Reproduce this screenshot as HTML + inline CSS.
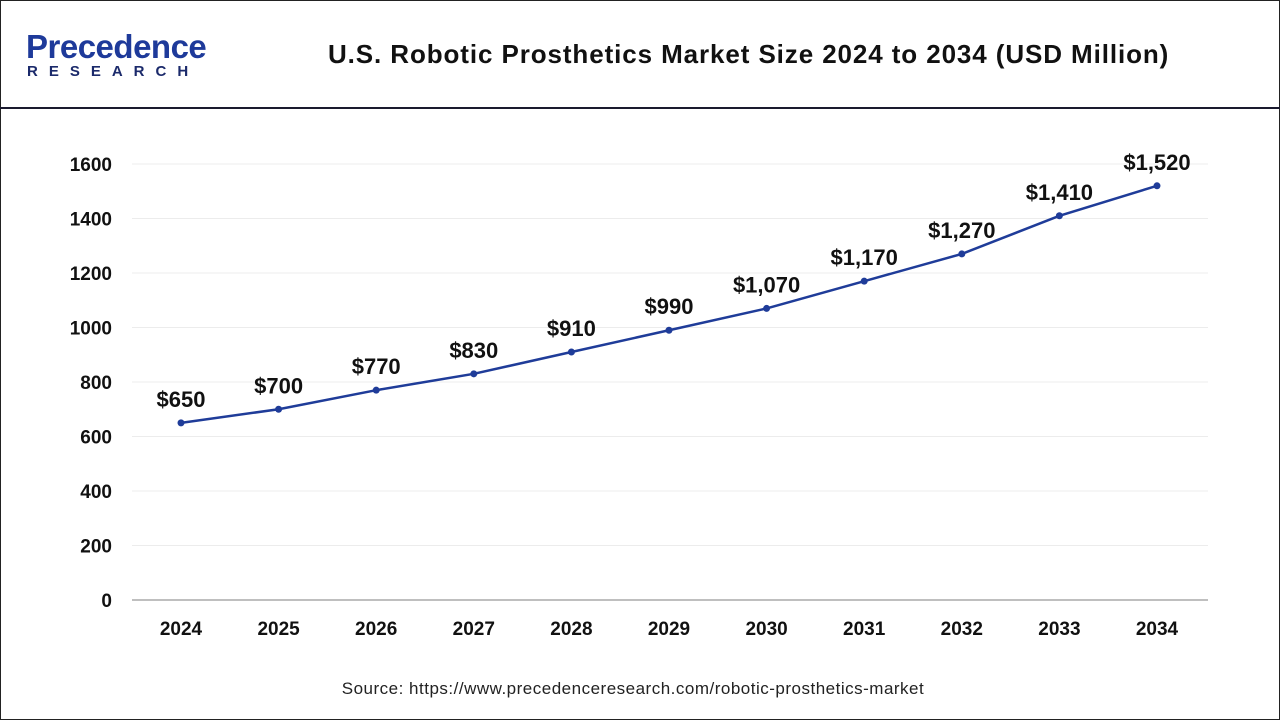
<!DOCTYPE html>
<html><head><meta charset="utf-8"><style>
body{margin:0;width:1280px;height:720px;background:#fff;font-family:"Liberation Sans",sans-serif;overflow:hidden}
.frame{position:absolute;left:0;top:0;width:1278px;height:718px;border:1px solid #222}
.hdr{position:absolute;left:0;top:107px;width:1280px;height:2px;background:#1a1a2e}
.logo1{position:absolute;left:26px;top:28px;font-size:33px;font-weight:bold;color:#1e3a9a;letter-spacing:-0.5px}
.logo2{position:absolute;left:27px;top:63px;font-size:15px;font-weight:bold;color:#1b2a6b;letter-spacing:11px}
.title{position:absolute;left:328px;top:39px;font-size:26px;font-weight:bold;color:#111;letter-spacing:0.9px;white-space:nowrap}
.src{position:absolute;left:0;width:1266px;text-align:center;top:679px;font-size:17px;color:#222;letter-spacing:0.5px}
</style></head><body>
<div class="frame"></div>
<div class="hdr"></div>
<div class="logo1">Precedence</div>
<div class="logo2">RESEARCH</div>
<div class="title">U.S. Robotic Prosthetics Market Size 2024 to 2034 (USD Million)</div>
<svg id="chart" width="1280" height="720" style="position:absolute;left:0;top:0"></svg>
<div class="src">Source: https://www.precedenceresearch.com/robotic-prosthetics-market</div>
<script>
const years=["2024","2025","2026","2027","2028","2029","2030","2031","2032","2033","2034"];
const values=[650,700,770,830,910,990,1070,1170,1270,1410,1520];
const valueLabels=["$650","$700","$770","$830","$910","$990","$1,070","$1,170","$1,270","$1,410","$1,520"];
const yTicks=[0,200,400,600,800,1000,1200,1400,1600];
const svg=document.getElementById('chart');
const NS='http://www.w3.org/2000/svg';
const x0=181,x1=1157,yBase=600,yTop=164,yMax=1600;
const X=i=>x0+(x1-x0)*i/(years.length-1);
const Y=v=>yBase-(yBase-yTop)*v/yMax;
function mk(t,a){const e=document.createElementNS(NS,t);for(const k in a)e.setAttribute(k,a[k]);svg.appendChild(e);return e;}
yTicks.forEach(t=>{
 if(t>0){const g=mk('line',{x1:132,x2:1208,y1:Y(t),y2:Y(t),stroke:'#ececec','stroke-width':1});
 
 }
 const l=mk('text',{x:112,y:Y(t)+7,'text-anchor':'end','font-size':19,'font-weight':'bold',fill:'#111'});
 l.textContent=t;
 
 
});
const ax=mk('line',{x1:132,x2:1208,y1:yBase,y2:yBase,stroke:'#aaa','stroke-width':1.5});


years.forEach((yr,i)=>{
 const t=mk('text',{x:X(i),y:635,'text-anchor':'middle','font-size':19,'font-weight':'bold',fill:'#111'});
 t.textContent=yr;
 
 
});
const line=mk('polyline',{points:values.map((v,i)=>X(i)+','+Y(v)).join(' '),fill:'none',stroke:'#1f3c99','stroke-width':2.5});


values.forEach((v,i)=>{
 const c=mk('circle',{cx:X(i),cy:Y(v),r:3.5,fill:'#1f3c99'});
 
 
 const t=mk('text',{x:X(i),y:Y(v)-16,'text-anchor':'middle','font-size':22,'font-weight':'bold',fill:'#111'});
 t.textContent=valueLabels[i];
 
 
});
</script>
</body></html>
